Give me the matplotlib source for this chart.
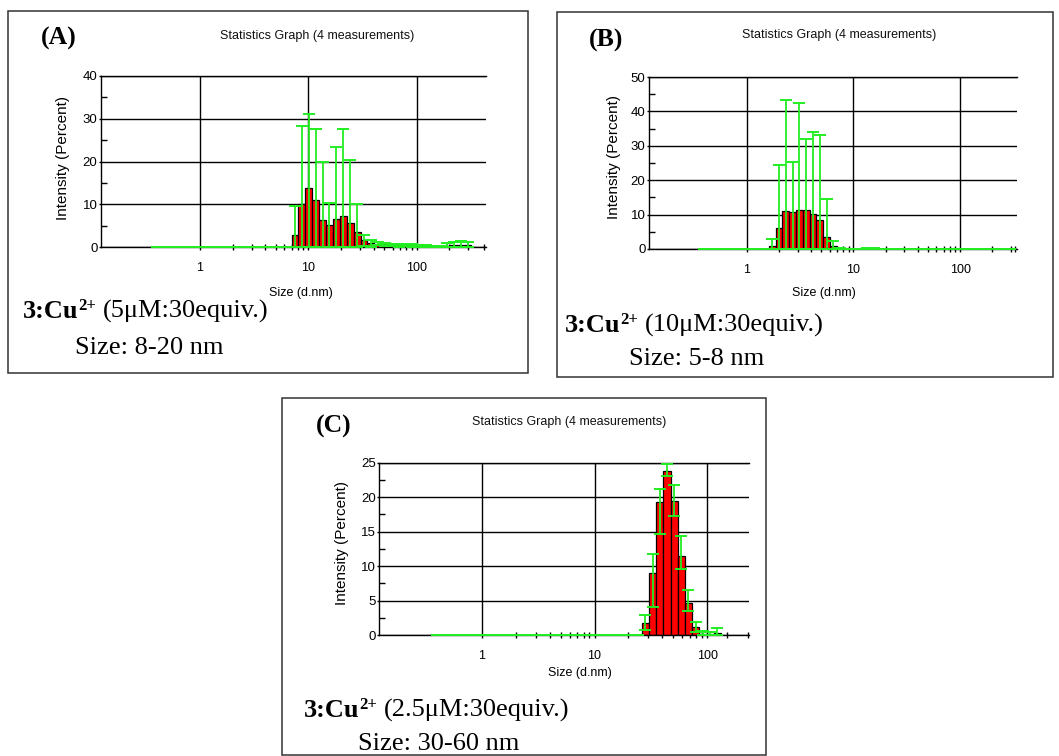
import matplotlib
matplotlib.use('Agg')
import matplotlib.pyplot as plt
import numpy as np
from matplotlib.patches import Rectangle
from matplotlib.ticker import FixedLocator, FixedFormatter, NullFormatter

plt.rcParams['font.family'] = ['Liberation Sans', 'DejaVu Sans']

W, H = 1059, 756
fig = plt.figure(figsize=(W / 100, H / 100), dpi=100)

# Malvern Zetasizer size classes (d.nm)
bin_sizes = [0.4, 0.4632, 0.5365, 0.6213, 0.7195, 0.8332, 0.9649, 1.117, 1.294, 1.499,
             1.736, 2.01, 2.328, 2.696, 3.122, 3.615, 4.187, 4.849, 5.615, 6.503,
             7.531, 8.721, 10.1, 11.7, 13.54, 15.69, 18.17, 21.04, 24.36, 28.21,
             32.67, 37.84, 43.82, 50.75, 58.77, 68.06, 78.82, 91.28, 105.7, 122.4,
             141.8, 164.2, 190.1, 220.2, 255.0, 295.3]

# Panel A : intensity (%) and SD
a_intensity = [0, 0, 0, 0, 0, 0, 0, 0, 0, 0,
               0, 0, 0, 0, 0, 0, 0, 0, 0, 0,
               2.9, 10.0, 13.7, 10.9, 6.3, 5.1, 6.6, 7.3, 5.7, 3.4,
               1.6, 0.9, 0.8, 0.6, 0.5, 0.4, 0.4, 0.3, 0.3, 0.2,
               0.1, 0.1, 0.2, 0.4, 0.5, 0.4]
a_sd = [0, 0, 0, 0, 0, 0, 0, 0, 0, 0,
        0, 0, 0, 0, 0, 0, 0, 0, 0, 0,
        6.7, 18.4, 17.4, 16.6, 13.5, 5.2, 16.7, 20.2, 14.6, 6.6,
        1.3, 0.8, 0.4, 0.4, 0.3, 0.3, 0.2, 0.3, 0.2, 0.2,
        0.1, 0.1, 0.7, 0.8, 0.8, 0.8]

# Panel B
b_intensity = [0, 0, 0, 0, 0, 0, 0, 0, 0, 0,
               0.9, 6.2, 11.1, 10.7, 11.4, 11.4, 10.3, 8.4, 3.6, 0.9,
               0.1, 0, 0, 0, 0.1, 0.1, 0, 0, 0, 0,
               0, 0, 0, 0, 0, 0, 0, 0, 0, 0,
               0, 0, 0, 0, 0, 0]
b_sd = [0, 0, 0, 0, 0, 0, 0, 0, 0, 0,
        1.9, 18.2, 32.3, 14.5, 31.0, 20.7, 23.8, 24.7, 10.9, 1.5,
        0.2, 0, 0, 0, 0.3, 0.3, 0, 0, 0, 0,
        0, 0, 0, 0, 0, 0, 0, 0, 0, 0,
        0, 0, 0, 0, 0, 0]

# Panel C : intensity and error-bar ends
c_intensity = [0, 0, 0, 0, 0, 0, 0, 0, 0, 0,
               0, 0, 0, 0, 0, 0, 0, 0, 0, 0,
               0, 0, 0, 0, 0, 0, 0, 0, 0, 1.8,
               9.0, 19.3, 23.8, 19.5, 11.4, 4.65, 1.15, 0.2, 0.2, 0.3]
c_upper = [0, 0, 0, 0, 0, 0, 0, 0, 0, 0,
           0, 0, 0, 0, 0, 0, 0, 0, 0, 0,
           0, 0, 0, 0, 0, 0, 0, 0, 0, 2.9,
           11.8, 21.2, 24.8, 21.8, 14.3, 6.6, 1.9, 0.6, 0.4, 1.0]
c_lower = [0, 0, 0, 0, 0, 0, 0, 0, 0, 0,
           0, 0, 0, 0, 0, 0, 0, 0, 0, 0,
           0, 0, 0, 0, 0, 0, 0, 0, 0, 0.7,
           4.1, 14.6, 23.0, 17.2, 9.6, 3.45, 0.45, 0, 0, 0]

x_major = [1, 10, 100]
x_major_labels = ['1', '10', '100']

TITLE = 'Statistics Graph (4 measurements)'
YLAB = 'Intensity (Percent)'
XLAB = 'Size (d.nm)'

RED = '#ff0000'
GREEN = '#22ee22'


def fx(x):
    return x / W


def fy(y):
    return 1 - y / H


def panel(box, l, t, r, b, xlim, ylim, ymajor, yminor, xminor, vals, err_lo, err_hi):
    ax = fig.add_axes([fx(l), fy(b), (r - l) / W, (b - t) / H])
    ax.set_xscale('log')
    ax.set_xlim(*xlim)
    ax.set_ylim(*ylim)
    ax.set_axisbelow(True)
    n = len(vals)
    s = np.array(bin_sizes[:n])
    w = np.log10(bin_sizes[1] / bin_sizes[0])
    left = s / 10 ** (w / 2)
    right = s * 10 ** (w / 2)
    ax.bar(left, np.array(vals), width=right - left, align='edge', color=RED,
           edgecolor='black', linewidth=0.9, zorder=2)
    eb = ax.errorbar(s, vals, yerr=[err_lo, err_hi], fmt='none', ecolor=GREEN,
                     elinewidth=1.3, capsize=4.0, capthick=1.4, zorder=3)
    for child in eb.get_children():
        child.set_clip_on(False)
    # axes styling
    ax.xaxis.set_major_locator(FixedLocator(x_major))
    ax.xaxis.set_major_formatter(FixedFormatter(x_major_labels))
    ax.xaxis.set_minor_locator(FixedLocator(xminor))
    ax.xaxis.set_minor_formatter(NullFormatter())
    ax.yaxis.set_major_locator(FixedLocator(ymajor))
    ax.yaxis.set_minor_locator(FixedLocator(yminor))
    ax.grid(True, which='major', color='black', linewidth=1.0)
    ax.tick_params(axis='x', which='major', direction='out', length=2, width=1,
                   pad=9, labelsize=9)
    ax.tick_params(axis='x', which='minor', direction='inout', length=5, width=1)
    ax.tick_params(axis='y', which='major', direction='out', length=1.5, width=1,
                   pad=1, labelsize=9.5)
    ax.tick_params(axis='y', which='minor', direction='in', length=4, width=1)
    ax.spines['right'].set_visible(False)
    for sp in ('left', 'top', 'bottom'):
        ax.spines[sp].set_linewidth(1.0)
        ax.spines[sp].set_color('black')
    ax.set_facecolor('white')
    bx0, by0, bx1, by1 = box
    fig.add_artist(Rectangle((fx(bx0), fy(by1)), (bx1 - bx0) / W, (by1 - by0) / H,
                             transform=fig.transFigure, fill=False,
                             edgecolor='#333333', linewidth=1.1, zorder=0))
    return ax


renderer = fig.canvas.get_renderer()


def rich(x_px, y_px, conc):
    x = x_px
    pieces = [('3:Cu', 'bold', 19, 0), ('2+', 'bold', 12, 8), (' ', 'normal', 19, 0),
              ('(' + conc + ':30equiv.)', 'normal', 19, 0)]
    for txt, weight, size, dy in pieces:
        if txt == ' ':
            x += 6.5
            continue
        tt = fig.text(fx(x), fy(y_px - dy), txt, family='Liberation Serif',
                      weight=weight, fontsize=size, ha='left', va='baseline')
        x += tt.get_window_extent(renderer).width


def labels(tag, tagxy, titlexy, ylabxy, xlabxy, cap1xy, conc, cap2xy, size_txt):
    fig.text(fx(tagxy[0]), fy(tagxy[1]), tag, family='Liberation Serif', weight='bold',
             fontsize=18.5, ha='center', va='center')
    fig.text(fx(titlexy[0]), fy(titlexy[1]), TITLE, fontsize=9, ha='center', va='center',
             color='#111111')
    fig.text(fx(ylabxy[0]), fy(ylabxy[1]), YLAB, fontsize=11, rotation=90,
             ha='center', va='center')
    fig.text(fx(xlabxy[0]), fy(xlabxy[1]), XLAB, fontsize=9, ha='center', va='center')
    rich(cap1xy[0], cap1xy[1], conc)
    fig.text(fx(cap2xy[0]), fy(cap2xy[1]), size_txt, family='Liberation Serif',
             fontsize=19, ha='left', va='baseline')


def clip_lo(vals, sd):
    return [min(v, e) for v, e in zip(vals, sd)]


# Panel A
panel((8, 11, 528, 373), 101, 76, 486, 247, (0.122, 437), (0, 40),
      [0, 10, 20, 30, 40], [5, 15, 25, 35],
      [2, 3, 4, 5, 6, 7, 8, 9, 20, 30, 40, 50, 60, 70, 80, 90, 200, 300, 420],
      a_intensity, clip_lo(a_intensity, a_sd), a_sd)
labels('(A)', (59, 38), (317.5, 36), (63, 158), (301, 293), (23, 318), '5μM',
       (75, 354), 'Size: 8-20 nm')

# Panel B
panel((557, 12, 1053, 377), 649, 77, 1017, 249, (0.1214, 341), (0, 50),
      [0, 10, 20, 30, 40, 50], [5, 15, 25, 35, 45],
      [2, 3, 4, 5, 6, 7, 8, 9, 20, 30, 40, 50, 60, 70, 80, 90, 200, 300, 325],
      b_intensity, clip_lo(b_intensity, b_sd), b_sd)
labels('(B)', (606.5, 40), (839.5, 35), (614, 157), (823.7, 293), (565, 332), '10μM',
       (629, 365), 'Size: 5-8 nm')

# Panel C
c_lo = [v - lo for v, lo in zip(c_intensity, c_lower)]
c_hi = [hi - v for v, hi in zip(c_intensity, c_upper)]
panel((282, 398, 766, 755), 379.3, 462.7, 749, 635, (0.1236, 234), (0, 25),
      [0, 5, 10, 15, 20, 25], [2.5, 7.5, 12.5, 17.5, 22.5],
      [2, 3, 4, 5, 6, 7, 8, 9, 20, 30, 40, 50, 60, 70, 80, 90, 150, 228],
      c_intensity, c_lo, c_hi)
labels('(C)', (333.5, 426), (568.7, 422), (341.7, 543), (580, 673), (304, 717), '2.5μM',
       (358, 750), 'Size: 30-60 nm')

fig.savefig('out.png', dpi=100, facecolor='white')
